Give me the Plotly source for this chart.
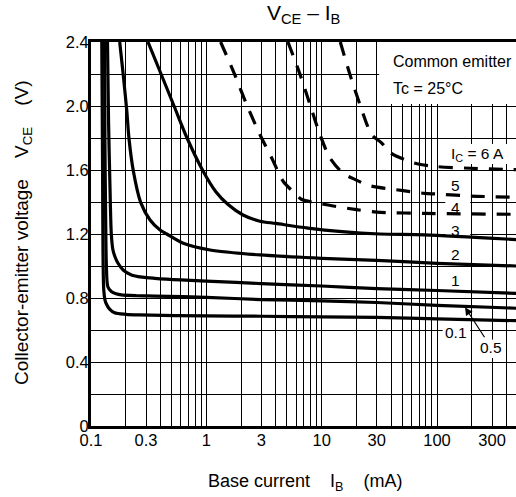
import math
import plotly.graph_objects as go

# ---------------- data (IB in mA, VCE in V) ----------------
ib_01 = [0.124, 0.126, 0.127, 0.129, 0.132, 0.135, 0.145, 0.16, 0.2, 0.26, 1, 3, 10, 30, 100, 485]
v_01 = [2.4, 1.6, 1.1, 0.85, 0.79, 0.767, 0.73, 0.708, 0.698, 0.694, 0.688, 0.686, 0.682, 0.679, 0.670, 0.658]

ib_05 = [0.131, 0.132, 0.134, 0.136, 0.14, 0.15, 0.165, 0.183, 0.25, 0.36, 1, 3, 10, 30, 100, 485]
v_05 = [2.4, 1.8, 1.3, 1.0, 0.87, 0.84, 0.826, 0.819, 0.814, 0.812, 0.804, 0.79, 0.782, 0.772, 0.754, 0.736]

ib_1 = [0.139, 0.142, 0.146, 0.150, 0.155, 0.163, 0.1715, 0.19, 0.224, 0.28, 0.357, 0.6, 1, 3, 10, 30, 100, 485]
v_1 = [2.4, 1.9, 1.5, 1.2, 1.1, 1.05, 1.017, 0.975, 0.944, 0.93, 0.923, 0.913, 0.906, 0.89, 0.875, 0.858, 0.847, 0.829]

ib_2 = [0.1774, 0.19, 0.204, 0.2137, 0.2328, 0.27, 0.325, 0.397, 0.4535, 0.631, 1.077, 2.92, 10, 30, 100, 485]
v_2 = [2.4, 2.2, 1.975, 1.794, 1.594, 1.396, 1.2875, 1.225, 1.2, 1.142, 1.1, 1.069, 1.048, 1.035, 1.017, 1.0]

ib_3 = [0.312, 0.405, 0.525, 0.68, 0.936, 1.214, 1.543, 2.08, 2.92, 4.0, 7.6, 15, 32, 78, 485]
v_3 = [2.4, 2.2, 2.0, 1.8, 1.594, 1.4625, 1.384, 1.319, 1.28, 1.266, 1.237, 1.215, 1.2, 1.194, 1.165]

ib_4 = [1.33, 1.715, 2.24, 2.92, 3.69, 4.65, 6.08, 6.67, 10, 20, 30, 78, 485]
v_4 = [2.4, 2.217, 2.008, 1.82, 1.675, 1.528, 1.444, 1.417, 1.388, 1.352, 1.337, 1.329, 1.323]

ib_5 = [5.1, 6.5, 7.93, 9.68, 11.8, 15.4, 20, 26, 50.8, 78, 100, 194, 485]
v_5 = [2.4, 2.196, 2.008, 1.82, 1.675, 1.579, 1.537, 1.502, 1.471, 1.454, 1.45, 1.4375, 1.429]

ib_6 = [14.5, 17.6, 21.5, 27.2, 33, 40.2, 58.4, 68.6, 100, 194, 374, 485]
v_6 = [2.4, 2.196, 2.008, 1.82, 1.77, 1.704, 1.652, 1.6375, 1.621, 1.611, 1.604, 1.602]

x_tick_vals = [0.1, 0.3, 1, 3, 10, 30, 100, 300]
x_tick_text = ["0.1", "0.3", "1", "3", "10", "30", "100", "300"]
y_tick_vals = [0, 0.4, 0.8, 1.2, 1.6, 2.0, 2.4]
y_tick_text = ["0", "0.4", "0.8", "1.2", "1.6", "2.0", "2.4"]

curves = [
    (ib_01, v_01, "solid"),
    (ib_05, v_05, "solid"),
    (ib_1, v_1, "solid"),
    (ib_2, v_2, "solid"),
    (ib_3, v_3, "solid"),
    (ib_4, v_4, "14px,11px"),
    (ib_5, v_5, "14px,11px"),
    (ib_6, v_6, "14px,11px"),
]

FONT = "Liberation Sans, Arial, sans-serif"
X_MIN, X_MAX = 0.1, 484.0

fig = go.Figure()
for xs, ys, dash in curves:
    fig.add_trace(go.Scatter(
        x=xs, y=ys, mode="lines",
        line=dict(color="black", width=3.2, dash=dash, shape="spline", smoothing=0.8),
        hoverinfo="skip", showlegend=False))

minor_x = [k * 10 ** n for n in range(-1, 3) for k in range(1, 10) if k * 10 ** n <= X_MAX]

fig.update_xaxes(
    type="log", range=[math.log10(X_MIN), math.log10(X_MAX)],
    tickvals=x_tick_vals, ticktext=x_tick_text, ticks="", ticklabelstandoff=-3,
    showgrid=True, gridcolor="black", gridwidth=1,
    minor=dict(tickvals=minor_x, showgrid=True, gridcolor="black", gridwidth=1, ticks=""),
    showline=True, linecolor="black", linewidth=3, mirror=True,
    zeroline=False, tickfont=dict(family=FONT, size=16.5, color="black"),
)
fig.update_yaxes(
    range=[0, 2.4], tickvals=y_tick_vals, ticktext=y_tick_text, ticks="", ticklabelstandoff=-4,
    showgrid=True, gridcolor="black", gridwidth=1.3,
    minor=dict(dtick=0.2, showgrid=True, gridcolor="black", gridwidth=1.3, ticks=""),
    showline=True, linecolor="black", linewidth=3, mirror=False,
    zeroline=False, tickfont=dict(family=FONT, size=16.5, color="black"),
)

shapes = [
    # "Common emitter" box
    dict(type="rect", xref="x", yref="y", x0=31.5, x1=2000, y0=2.012, y1=2.6,
         fillcolor="white", line=dict(width=0), layer="between"),
]

# curve labels: (text, ib, v, box_x0, box_x1, box_halfheight)
labels = [
    ("I<sub>C</sub> = 6 A", 223, 1.70, 117.5, 414, 0.062),
    ("5", 146, 1.506, 118, 194, 0.05),
    ("4", 146, 1.364, 118, 194, 0.05),
    ("3", 146, 1.225, 118, 194, 0.05),
    ("2", 146, 1.075, 118, 194, 0.05),
    ("1", 146, 0.9125, 118, 194, 0.05),
    ("0.1", 146, 0.583, 112, 194, 0.05),
]
annotations = []
for text, ib, v, bx0, bx1, hh in labels:
    shapes.append(dict(type="rect", xref="x", yref="y", x0=bx0, x1=bx1, y0=v - hh, y1=v + hh,
                       fillcolor="white", line=dict(width=0), layer="between"))
    annotations.append(dict(text=text, x=math.log10(ib), y=v, xref="x", yref="y",
                            xanchor="center", yanchor="middle",
                            showarrow=False, font=dict(family=FONT, size=15.5, color="black")))

# 0.5 label with arrow
shapes.append(dict(type="rect", xref="x", yref="y", x0=227, x1=374, y0=0.425, y1=0.54,
                   fillcolor="white", line=dict(width=0), layer="between"))
annotations.append(dict(text="0.5", x=math.log10(175), y=0.742, xref="x", yref="y",
                        ax=26, ay=40, showarrow=True, arrowhead=2, arrowsize=1.3,
                        arrowwidth=1.2, arrowcolor="black",
                        font=dict(family=FONT, size=15.5, color="black")))

# box text
annotations += [
    dict(text="Common emitter", x=0.705, y=0.948, xref="paper", yref="paper",
         xanchor="left", yanchor="middle",
         showarrow=False, font=dict(family=FONT, size=16, color="black")),
    dict(text="Tc = 25°C", x=0.705, y=0.880, xref="paper", yref="paper",
         xanchor="left", yanchor="middle",
         showarrow=False, font=dict(family=FONT, size=16, color="black")),
    # title
    dict(text="V<sub>CE</sub> – I<sub>B</sub>", x=0.5, y=1.072, xref="paper", yref="paper",
         xanchor="center", yanchor="middle",
         showarrow=False, font=dict(family=FONT, size=21, color="black")),
    # axis titles
    dict(text="Collector-emitter voltage\u00a0\u00a0\u00a0\u00a0V<sub>CE</sub>\u00a0\u00a0\u00a0\u00a0(V)",
         x=-0.16, y=0.5026, xref="paper", yref="paper", textangle=-90,
         xanchor="center", yanchor="middle",
         showarrow=False, font=dict(family=FONT, size=19, color="black")),
    dict(text="Base current\u00a0\u00a0\u00a0\u00a0I<sub>B</sub>\u00a0\u00a0\u00a0\u00a0(mA)",
         x=0.5035, y=-0.148, xref="paper", yref="paper",
         xanchor="center", yanchor="middle",
         showarrow=False, font=dict(family=FONT, size=18, color="black")),
]

fig.update_layout(
    width=516, height=497,
    margin=dict(l=91, r=0, t=42, b=71),
    paper_bgcolor="white", plot_bgcolor="white",
    shapes=shapes, annotations=annotations,
    showlegend=False,
)

fig.write_html(
    "out.html",
    config={"displayModeBar": False},
    post_script="document.body.style.margin='0';document.body.style.padding='0';"
                "document.body.style.overflow='hidden';",
)
